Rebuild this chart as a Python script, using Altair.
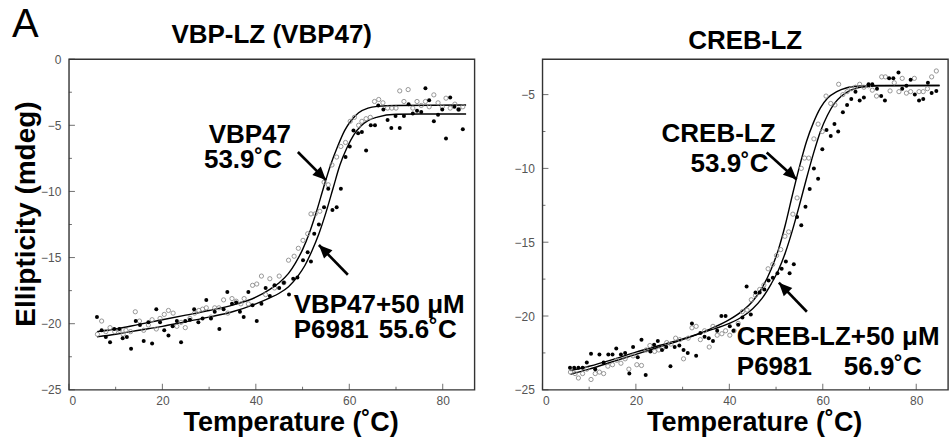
import altair as alt
import pandas as pd

FONT = "Liberation Sans"

# ---------------- Left panel: VBP-LZ (VBP47) ----------------
# open circles: VBP47 alone  (temperature, ellipticity)
L_OPEN = [(6.1,-20.8),(7.0,-19.8),(7.9,-20.6),(8.8,-20.3),(9.8,-20.6),(10.8,-20.5),(11.6,-20.8),(12.2,-20.5),(13.2,-20.6),(14.2,-19.1),
          (15.1,-19.8),(16.0,-20.5),(17.0,-20.1),(17.8,-19.7),(18.7,-20.4),(19.5,-19.6),(20.4,-19.3),(21.3,-19.0),(22.3,-19.2),(23.1,-20.2),
          (24.0,-19.9),(24.9,-20.3),(25.9,-19.6),(26.9,-19.2),(27.8,-19.0),(28.6,-18.9),(29.4,-18.8),(30.4,-19.5),(31.2,-18.8),(32.1,-18.8),
          (33.1,-18.2),(34.0,-19.2),(34.9,-18.1),(35.8,-18.3),(36.8,-18.5),(37.5,-18.1),(38.4,-18.5),(39.3,-17.1),(40.2,-17.0),(41.2,-16.4),
          (42.1,-17.8),(43.0,-16.6),(44.0,-17.3),(45.0,-16.4),(46.0,-16.9),(47.0,-15.2),(48.2,-14.9),(49.1,-14.3),(50.1,-13.7),(51.1,-13.2),
          (51.8,-11.7),(52.7,-11.7),(53.7,-11.5),(54.6,-9.3),(55.5,-9.5),(56.3,-8.0),(57.3,-7.4),(58.2,-6.6),(59.2,-6.3),(60.2,-4.7),
          (61.1,-4.4),(62.0,-5.0),(62.7,-4.7),(63.6,-4.5),(64.5,-4.4),(65.4,-3.2),(66.3,-3.05),(67.2,-3.3),(68.2,-3.7),(69.1,-3.7),
          (70.0,-3.7),(70.8,-2.4),(71.7,-3.2),(72.6,-2.3),(73.6,-3.7),(74.5,-3.2),(75.4,-3.5),(76.3,-3.2),(77.1,-3.6),(78.1,-2.7),
          (79.0,-3.3),(79.9,-3.6),(80.7,-2.95),(81.6,-3.7),(82.6,-3.4),(83.4,-3.8),(84.3,-3.6)]
# filled circles: VBP47 + 50 uM P6981
L_FILLED = [(6.0,-19.5),(7.0,-20.5),(7.9,-21.0),(8.8,-21.4),(9.7,-20.4),(10.8,-20.4),(11.5,-21.1),(12.4,-21.0),(13.3,-21.9),(14.3,-19.8),
            (15.2,-20.1),(16.0,-21.3),(17.0,-19.9),(17.8,-21.5),(18.7,-18.9),(19.5,-19.9),(20.4,-20.5),(21.3,-20.9),(22.2,-20.2),(23.1,-19.8),
            (24.0,-21.4),(24.9,-19.8),(25.9,-19.7),(26.8,-18.9),(27.7,-19.9),(28.6,-19.6),(29.4,-18.2),(30.4,-19.6),(31.2,-19.1),(32.2,-20.4),
            (33.1,-18.9),(33.9,-17.6),(34.9,-18.5),(35.8,-18.4),(36.6,-19.1),(37.4,-19.5),(38.4,-17.6),(39.3,-18.6),(40.2,-19.8),(41.2,-18.5),
            (42.1,-17.3),(43.0,-17.9),(44.0,-17.1),(45.0,-17.3),(46.0,-16.9),(47.1,-17.8),(48.0,-16.6),(48.9,-16.5),(50.1,-15.2),(51.1,-14.6),
            (51.8,-15.3),(52.5,-13.2),(53.5,-12.5),(54.6,-11.2),(55.5,-9.8),(56.4,-11.4),(57.3,-11.2),(58.2,-9.8),(59.2,-7.4),(60.1,-6.6),
            (60.9,-5.4),(61.9,-5.6),(62.7,-5.5),(63.6,-6.9),(64.6,-5.0),(65.5,-5.0),(66.2,-3.5),(67.3,-3.8),(68.2,-4.6),(69.0,-5.2),
            (69.9,-4.3),(70.8,-5.2),(71.7,-4.3),(72.7,-3.4),(73.6,-4.1),(74.5,-3.9),(75.4,-4.0),(76.3,-2.2),(77.1,-3.1),(78.1,-4.7),
            (79.0,-4.2),(79.9,-3.8),(80.7,-6.0),(81.6,-2.9),(82.5,-3.6),(83.4,-3.8),(84.3,-5.3)]
# fitted curves
L_FIT_OPEN = [(6,-20.6),(10,-20.4),(15,-20.05),(20,-19.7),(25,-19.35),(30,-19.0),(35,-18.6),(40,-18.0),(43,-17.4),(45,-16.9),
              (47,-16.2),(48.5,-15.4),(50,-14.4),(51.5,-13.1),(53,-11.5),(54.5,-9.7),(56,-8.0),(57.5,-6.6),(59,-5.4),(60.5,-4.6),
              (62,-4.05),(64,-3.7),(66,-3.57),(70,-3.5),(85,-3.47)]
L_FIT_FILLED = [(6,-21.0),(10,-20.8),(15,-20.5),(20,-20.2),(25,-19.85),(30,-19.5),(35,-19.1),(40,-18.5),(43,-18.05),(45,-17.7),
                (47,-17.2),(49,-16.4),(50.5,-15.6),(52,-14.5),(53.5,-13.2),(55,-11.6),(56.5,-9.8),(58,-8.0),(59.5,-6.7),(61,-5.7),
                (62.5,-5.05),(64,-4.65),(66,-4.38),(70,-4.17),(75,-4.15),(85,-4.15)]
L_NOTES = [(29.9,-6.34,"VBP47"),(28.9,-8.23,"53.9˚C"),
           (48.1,-19.18,"VBP47+50 μM"),(48.1,-21.07,"P6981"),(66.3,-21.07,"55.6˚C")]
# arrows: start (t, e) -> tip (t2, e2), head angle
L_ARROWS = [(49.0,-7.02,55.0,-9.14,135),(59.7,-16.3,53.5,-14.05,315)]

# ---------------- Right panel: CREB-LZ ----------------
R_OPEN = [(6.0,-23.8),(7.0,-23.9),(7.7,-24.2),(8.6,-23.9),(9.5,-23.6),(10.4,-24.3),(11.3,-23.9),(12.2,-23.8),(13.1,-23.9),(14.0,-23.4),
          (15.0,-23.3),(15.9,-23.0),(16.8,-23.2),(17.7,-22.9),(18.5,-23.6),(19.4,-22.7),(20.2,-23.3),(21.2,-23.35),(22.2,-22.3),(23.0,-22.0),
          (24.0,-22.4),(24.9,-22.3),(25.7,-22.2),(26.6,-21.8),(27.5,-21.9),(28.5,-21.5),(29.4,-21.6),(30.2,-22.9),(31.2,-21.5),(32.0,-20.8),
          (32.9,-20.7),(33.8,-21.6),(34.7,-21.0),(35.7,-22.1),(36.5,-20.7),(37.4,-21.3),(38.4,-21.2),(39.2,-21.0),(40.1,-21.3),(41.0,-21.0),
          (41.9,-20.5),(42.8,-19.7),(43.8,-19.6),(44.7,-18.9),(45.6,-18.6),(46.5,-18.2),(47.4,-17.9),(48.3,-16.8),(49.3,-16.5),(50.1,-15.9),
          (51.0,-15.5),(51.9,-14.6),(52.7,-14.3),(53.6,-13.1),(54.5,-12.0),(55.4,-10.0),(56.1,-9.3),(57.0,-9.3),(58.1,-8.0),(59.0,-7.0),
          (59.9,-7.5),(60.7,-5.1),(61.7,-5.6),(62.6,-5.7),(63.4,-4.3),(64.3,-5.0),(65.2,-4.8),(66.1,-4.6),(67.0,-4.5),(67.9,-4.3),
          (68.8,-4.5),(69.8,-4.4),(70.6,-4.7),(71.5,-5.1),(72.6,-3.8),(73.4,-3.8),(74.4,-4.75),(75.3,-4.2),(76.3,-4.8),(77.0,-3.9),
          (77.9,-4.9),(78.8,-4.8),(79.6,-3.9),(80.6,-4.8),(81.5,-4.8),(82.4,-4.6),(83.3,-3.8),(84.3,-3.4)]
R_FILLED = [(5.9,-23.5),(6.8,-23.5),(7.7,-23.5),(8.6,-23.5),(9.5,-23.15),(10.4,-22.55),(11.3,-23.6),(12.2,-22.6),(13.1,-23.15),(14.1,-22.6),
            (15.0,-22.6),(15.8,-22.2),(16.8,-22.6),(17.7,-22.5),(18.6,-23.9),(19.4,-22.1),(20.4,-22.8),(21.2,-21.6),(22.1,-24.0),(23.1,-22.4),
            (23.9,-21.95),(24.7,-21.7),(25.6,-22.3),(26.5,-22.1),(27.4,-23.4),(28.3,-22.1),(29.3,-22.0),(30.2,-22.3),(31.1,-22.5),(32.0,-20.5),
            (32.9,-22.7),(33.8,-21.15),(34.7,-21.4),(35.6,-21.5),(36.5,-21.7),(37.4,-21.0),(38.3,-20.0),(39.2,-20.0),(40.1,-20.7),(40.9,-21.0),
            (41.9,-20.6),(42.8,-20.1),(43.7,-18.0),(44.6,-19.9),(45.6,-18.4),(46.5,-18.4),(47.5,-18.2),(48.4,-17.6),(49.3,-17.4),(50.3,-17.1),
            (51.2,-16.8),(52.1,-16.3),(52.9,-17.1),(53.8,-16.5),(54.5,-13.3),(55.4,-13.85),(56.3,-12.6),(57.2,-11.4),(58.1,-10.0),(59.0,-10.7),
            (59.9,-8.7),(60.8,-7.4),(61.7,-7.8),(62.5,-7.0),(63.3,-7.5),(64.3,-6.2),(65.2,-5.7),(66.1,-5.3),(67.0,-4.8),(67.9,-5.4),
            (68.8,-5.2),(69.8,-4.3),(70.6,-4.3),(71.6,-4.6),(72.5,-5.1),(73.3,-5.4),(74.2,-3.9),(75.1,-3.9),(76.2,-3.5),(77.0,-4.6),
            (77.9,-4.4),(78.8,-4.0),(79.7,-5.0),(80.6,-5.4),(81.5,-5.3),(82.5,-4.2),(83.3,-4.9),(84.3,-4.75)]
R_FIT_OPEN = [(6,-23.95),(10,-23.6),(15,-23.1),(20,-22.6),(25,-22.1),(30,-21.6),(35,-21.0),(40,-20.25),(43,-19.6),(45,-19.0),
              (47,-18.1),(49,-16.8),(50.5,-15.5),(52,-13.8),(53.5,-11.8),(55,-9.9),(56.5,-8.2),(58,-6.9),(59.5,-5.9),(61,-5.25),
              (63,-4.8),(65,-4.55),(68,-4.42),(72,-4.38),(85,-4.38)]
R_FIT_FILLED = [(6,-23.7),(10,-23.4),(15,-22.95),(20,-22.45),(25,-22.0),(30,-21.55),(35,-21.05),(40,-20.5),(43,-20.0),(45,-19.5),
                (47,-18.8),(49,-17.8),(50.5,-16.9),(52,-15.7),(53.5,-14.2),(55,-12.5),(56.5,-10.7),(58,-9.0),(59.5,-7.5),(61,-6.4),
                (62.5,-5.6),(64,-5.1),(66,-4.7),(68,-4.5),(72,-4.4),(85,-4.38)]
R_NOTES = [(25.5,-8.24,"CREB-LZ"),(31.7,-10.21,"53.9˚C"),
           (41.6,-21.95,"CREB-LZ+50 μM"),(41.6,-23.98,"P6981"),(64.5,-23.98,"56.9˚C")]
R_ARROWS = [(48.0,-8.92,54.4,-10.75,133),(56.6,-19.71,50.6,-17.74,316)]

X_TICKS = [0, 20, 40, 60, 80]
X_MINOR = [10, 30, 50, 70]
L_Y_TICKS = [0, -5, -10, -15, -20, -25]
L_Y_MINOR = [-2.5, -7.5, -12.5, -17.5, -22.5]
R_Y_TICKS = [-5, -10, -15, -20, -25]
R_Y_MINOR = [-7.5, -12.5, -17.5, -22.5]

W, H = 406, 331
HEAD = "M0,0L-0.45,1L0.45,1Z"


def pts(rows):
    return pd.DataFrame(rows, columns=["t", "e"])


def panel(title, opn, fil, fit_o, fit_f, notes, arrows, ydom, yt, ymin, ytitle, xtitle_x):
    xs = alt.Scale(domain=[0, 86.8], nice=False, zero=False)
    ys = alt.Scale(domain=ydom, nice=False, zero=False)
    X = alt.X("t:Q", scale=xs, axis=alt.Axis(values=X_TICKS, title="Temperature (˚C)", titleX=xtitle_x))
    if ytitle:
        Y = alt.Y("e:Q", scale=ys, axis=alt.Axis(values=yt, title=ytitle, titleY=H / 2 - 11))
    else:
        Y = alt.Y("e:Q", scale=ys, axis=alt.Axis(values=yt, title=None))

    layers = []
    for rows, tick_len in ((X_TICKS, 6), (X_MINOR, 3)):
        layers.append(alt.Chart(pd.DataFrame({"t": rows})).mark_tick(
            orient="vertical", size=tick_len, thickness=1, color="#333").encode(x=X, y=alt.value(H - tick_len / 2)))
    for rows, tick_len in ((yt, 6), (ymin, 3)):
        layers.append(alt.Chart(pd.DataFrame({"e": rows})).mark_tick(
            orient="horizontal", size=tick_len, thickness=1, color="#333").encode(y=Y, x=alt.value(tick_len / 2)))

    for fit in (fit_o, fit_f):
        layers.append(alt.Chart(pts(fit)).mark_line(color="black", strokeWidth=1.4, interpolate="monotone")
                      .encode(x=X, y=Y))
    layers.append(alt.Chart(pts(opn)).mark_point(shape="circle", filled=False, color="#8c8c8c",
                                                 strokeWidth=0.9, size=18, opacity=1).encode(x=X, y=Y))
    layers.append(alt.Chart(pts(fil)).mark_circle(color="black", size=16, opacity=1).encode(x=X, y=Y))

    ndf = pd.DataFrame(notes, columns=["t", "e", "label"])
    layers.append(alt.Chart(ndf).mark_text(align="left", baseline="alphabetic", font=FONT, fontSize=26,
                                           fontWeight="bold", color="black").encode(x=X, y=Y, text="label:N"))
    adf = pd.DataFrame(arrows, columns=["t", "e", "t2", "e2", "ang"])
    layers.append(alt.Chart(adf).mark_rule(color="black", strokeWidth=2.6)
                  .encode(x=X, y=Y, x2="t2:Q", y2="e2:Q"))
    hdf = adf[["t2", "e2", "ang"]].rename(columns={"t2": "t", "e2": "e"})
    layers.append(alt.Chart(hdf).mark_point(shape=HEAD, size=700, filled=True, color="black",
                                            strokeWidth=0, opacity=1)
                  .encode(x=X, y=Y, angle=alt.Angle("ang:Q", scale=None)))

    return alt.layer(*layers).properties(
        width=W, height=H,
        title=alt.TitleParams(title, font=FONT, fontSize=26, fontWeight="bold", color="black",
                              anchor="middle", offset=5))


left = panel("VBP-LZ (VBP47)", L_OPEN, L_FILLED, L_FIT_OPEN, L_FIT_FILLED, L_NOTES, L_ARROWS,
             [-25, 0], L_Y_TICKS, L_Y_MINOR, "Ellipticity (mdeg)", W / 2 + 19)
right = panel("CREB-LZ", R_OPEN, R_FILLED, R_FIT_OPEN, R_FIT_FILLED, R_NOTES, R_ARROWS,
              [-25, -2.6], R_Y_TICKS, R_Y_MINOR, None, W / 2 + 9)

chart = alt.hconcat(left, right, spacing=37).properties(
    title=alt.TitleParams("A", font=FONT, fontSize=40, fontWeight="normal", color="black",
                          anchor="start", offset=-24),
    padding={"left": 11, "top": 5, "right": 0, "bottom": 0}
).configure_view(stroke="#333", strokeWidth=1.4).configure_axis(
    grid=False, domain=False, ticks=False, tickSize=0,
    labelFont=FONT, labelFontSize=12, labelColor="#555", labelPadding=8,
    titleFont=FONT, titleFontWeight="bold", titleColor="black",
).configure_axisX(labelPadding=6, titleFontSize=27, titlePadding=3).configure_axisY(
    titleFontSize=28, titlePadding=0)

chart.save("out.html", embed_options={"renderer": "svg", "actions": False})
